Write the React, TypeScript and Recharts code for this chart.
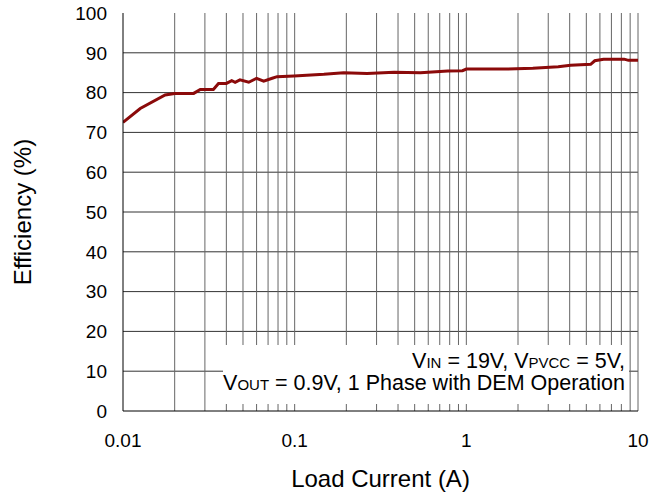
import { CartesianGrid, Line, LineChart, ReferenceLine, XAxis, YAxis } from 'recharts';

// efficiency curve (log x axis)
const loadCurrent = [
  0.01, 0.0126, 0.0176, 0.02, 0.0258, 0.0282, 0.0336, 0.036, 0.04, 0.043, 0.045, 0.048,
  0.054, 0.06, 0.066, 0.074, 0.079, 0.099, 0.148, 0.193, 0.264, 0.38, 0.54, 0.78, 0.95,
  1.0, 1.58, 2.44, 3.43, 4.05, 5.3, 5.6, 6.3, 8.3, 8.8, 10,
];
const efficiency = [
  72.5, 76.0, 79.4, 79.8, 79.8, 80.8, 80.8, 82.3, 82.3, 83.0, 82.6, 83.2,
  82.6, 83.6, 82.9, 83.6, 84.0, 84.2, 84.6, 85.0, 84.8, 85.1, 85.0, 85.4, 85.5,
  85.9, 85.9, 86.1, 86.5, 86.9, 87.1, 88.0, 88.4, 88.4, 88.1, 88.1,
];

const xTicks = [0.01, 0.1, 1, 10];
const yTicks = [0, 10, 20, 30, 40, 50, 60, 70, 80, 90, 100];
// log grid: 2..9 in each decade plus the decade lines
const xGrid = [
  0.02, 0.03, 0.04, 0.05, 0.06, 0.07, 0.08, 0.09, 0.1,
  0.2, 0.3, 0.4, 0.5, 0.6, 0.7, 0.8, 0.9, 1,
  2, 3, 4, 5, 6, 7, 8, 9, 10,
];
const yGrid = [10, 20, 30, 40, 50, 60, 70, 80, 90];

const data = loadCurrent.map((x, i) => ({ x, eff: efficiency[i] }));

const FONT = '"Liberation Sans", Arial, sans-serif';

export default function App() {
  return (
    <div style={{ position: 'absolute', left: 0, top: 0, width: 666, height: 496, background: '#fff', fontFamily: FONT }}>
      <LineChart width={666} height={496} data={data} margin={{ top: 13, right: 28, bottom: 0, left: 0 }}>
        <CartesianGrid vertical={false} horizontalValues={yGrid} stroke="#333" strokeWidth={1} />
        {xGrid.map((v) => (
          <ReferenceLine key={v} x={v} stroke="#666" strokeWidth={1} />
        ))}
        <XAxis
          dataKey="x"
          type="number"
          scale="log"
          domain={[0.01, 10]}
          ticks={xTicks}
          allowDataOverflow
          height={85}
          tickLine={false}
          tickMargin={17}
          axisLine={{ stroke: '#000' }}
          tick={{ fill: '#000', fontSize: 19, fontFamily: FONT }}
          tickFormatter={(v: number) => String(v)}
          label={{ value: 'Load Current (A)', position: 'insideBottom', offset: 9, fill: '#000', fontSize: 24, fontFamily: FONT }}
        />
        <YAxis
          type="number"
          domain={[0, 100]}
          ticks={yTicks}
          width={123}
          tickLine={false}
          tickMargin={10}
          axisLine={{ stroke: '#000' }}
          tick={{ fill: '#000', fontSize: 19, fontFamily: FONT }}
          label={{
            content: () => (
              <text x={22} y={212} transform="rotate(-90 22 212)" textAnchor="middle" dominantBaseline="central" fill="#000" fontSize={24} fontFamily={FONT}>
                Efficiency (%)
              </text>
            ),
          }}
        />
        <Line type="linear" dataKey="eff" stroke="#8b0a0a" strokeWidth={3} dot={false} isAnimationActive={false} />
      </LineChart>
      {/* condition box sits over the grid */}
      <div
        style={{
          position: 'absolute', left: 223, top: 345, width: 406, height: 59, background: '#fff',
          textAlign: 'right', fontSize: 21.5, lineHeight: '20px', color: '#000', paddingTop: 6, boxSizing: 'border-box', paddingRight: 4,
          whiteSpace: 'nowrap',
        }}
      >
        <div>V<span style={{ fontSize: 15 }}>IN</span> = 19V, V<span style={{ fontSize: 15 }}>PVCC</span> = 5V,</div>
        <div>V<span style={{ fontSize: 15 }}>OUT</span> = 0.9V, 1 Phase with DEM Operation</div>
      </div>
    </div>
  );
}
